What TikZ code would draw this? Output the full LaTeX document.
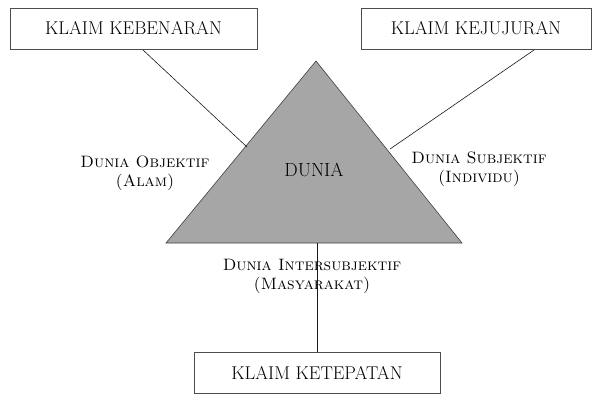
\documentclass[tikz,border=0pt]{standalone}
\usepackage{fontspec}
\tikzset{
  claimbox/.style={draw=black!70, line width=0.7pt, fill=white, minimum height=41bp, inner sep=0pt,
    font=\fontsize{18.5bp}{22bp}\selectfont},
  worldlabel/.style={align=center, font=\fontsize{16.5bp}{19bp}\selectfont\scshape, inner sep=0pt},
  link/.style={draw=black!90, line width=0.6pt},
}
\begin{document}
\begin{tikzpicture}[x=1bp,y=-1bp]
\useasboundingbox (0,0) rectangle (596,394);
% boxes
\node[claimbox, minimum width=247bp] (kb) at (133.5,28.5) {KLAIM KEBENARAN};
\node[claimbox, minimum width=230bp] (kj) at (476,28.5) {KLAIM KEJUJURAN};
\node[claimbox, minimum width=246bp] (kt) at (317,372.5) {KLAIM KETEPATAN};
% triangle
\coordinate (apex) at (316,61);
\coordinate (bl) at (166,243);
\coordinate (br) at (462,243);
\filldraw[fill=black!35, draw=black!75, line width=0.6pt] (apex) -- (bl) -- (br) -- cycle;
\node[font=\fontsize{19bp}{22bp}\selectfont, inner sep=0pt] (dunia) at (314,170) {DUNIA};
% connector end points on the triangle
\coordinate (lp) at (247,147);
\coordinate (rp) at (390,149);
\coordinate (bp) at (317,243);
\coordinate (kbs) at (143,50);
\coordinate (kjs) at (534,50);
\draw[link] (kbs) -- (lp);
\draw[link] (kjs) -- (rp);
\draw[link] (bp) -- (kt.north);
% labels
\node[worldlabel] (obj) at (145,173) {Dunia Objektif\\(Alam)};
\node[worldlabel] (subj) at (479,169) {Dunia Subjektif\\(Individu)};
\node[worldlabel] (inter) at (312,276) {Dunia Intersubjektif\\(Masyarakat)};
\end{tikzpicture}
\end{document}
